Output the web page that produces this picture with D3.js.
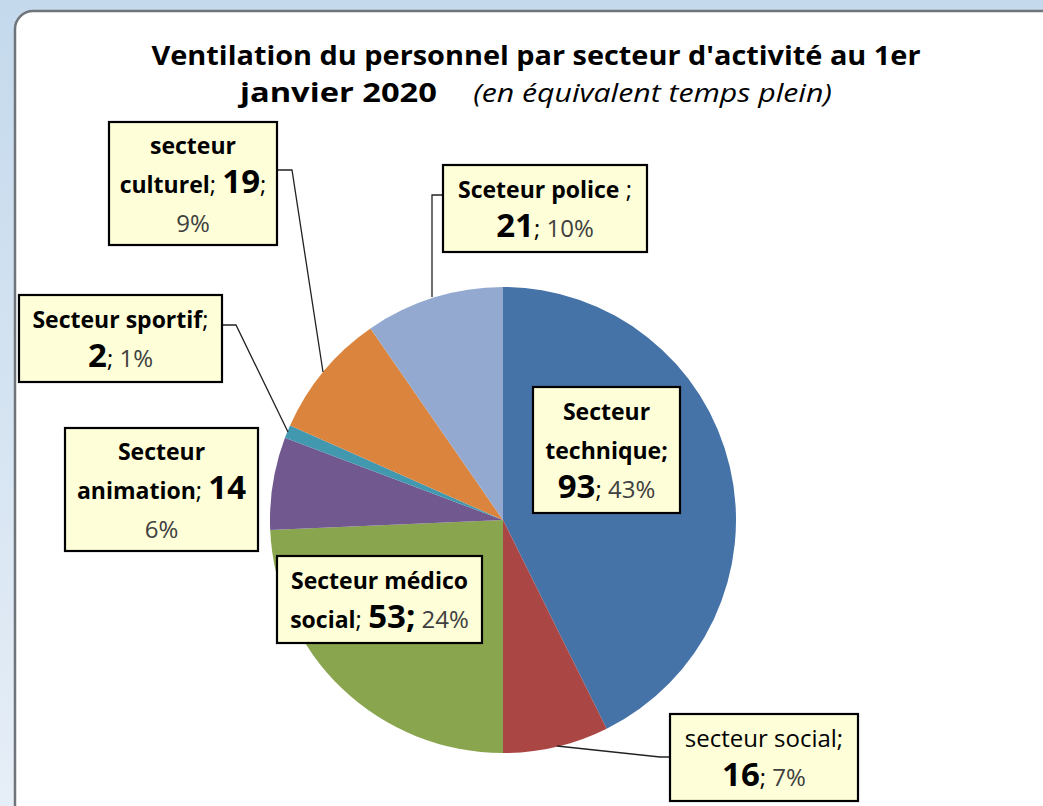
<!DOCTYPE html>
<html><head><meta charset="utf-8">
<script src="https://cdn.jsdelivr.net/npm/d3@7"></script>
<style>body{margin:0;overflow:hidden;background:#c9dcee}</style>
</head><body>
<script>
// ---- data ----
const categories = ["Secteur technique","secteur social","Secteur médico social","Secteur animation","Secteur sportif","secteur culturel","Sceteur police"];
const values = [93,16,53,14,2,19,21];
const colors = ["#4572A7","#AA4643","#89A54E","#71588F","#4198AF","#DB843D","#93A9CF"];
const titleLine1 = "Ventilation du personnel par secteur d'activité au 1er";
const titleLine2a = "janvier 2020";
const titleLine2b = "(en équivalent temps plein)";
// label text layout: b=bold, r=regular, n=big bold value, p=percent
const labelLines = [
  [[["b","Secteur"]],[["b","technique;"]],[["n","{v}"],["r","; "],["p","{p}"]]],
  [[["r","secteur social;"]],[["n","{v}"],["r","; "],["p","{p}"]]],
  [[["b","Secteur médico"]],[["b","social"],["r","; "],["n","{v};"],["r"," "],["p","{p}"]]],
  [[["b","Secteur"]],[["b","animation"],["r","; "],["n","{v}"]],[["p","{p}"]]],
  [[["b","Secteur sportif"],["r",";"]],[["n","{v}"],["r","; "],["p","{p}"]]],
  [[["b","secteur"]],[["b","culturel"],["r","; "],["n","{v}"],["r",";"]],[["p","{p}"]]],
  [[["b","Sceteur police"],["r"," ;"]],[["n","{v}"],["r","; "],["p","{p}"]]]
];
// ---- layout ----
const boxes = [
  {x:533,y:387,w:147,h:126},
  {x:670,y:714,w:188,h:87, leader:[[557,746],[660,757],[670,757]]},
  {x:277,y:556,w:205,h:87},
  {x:65,y:428,w:193,h:123},
  {x:19,y:295,w:203,h:87, leader:[[288,432],[236,325],[222,325]]},
  {x:109,y:122,w:168,h:123, leader:[[323,372],[292,170],[277,170]]},
  {x:443,y:165,w:204,h:87, leader:[[432,297],[432,195],[443,195]]}
];
const W=1043,H=806, cx=503, cy=520, R=233;
const FONT="'Open Sans', sans-serif";

const svg=d3.select("body").append("svg").attr("width",W).attr("height",H);
const defs=svg.append("defs");
const bg=defs.append("linearGradient").attr("id","bg").attr("x1",0).attr("y1",0).attr("x2",0).attr("y2",1);
bg.append("stop").attr("offset",0).attr("stop-color","#c4d9ec");
bg.append("stop").attr("offset",1).attr("stop-color","#e6eef7");
svg.append("rect").attr("width",W).attr("height",H).attr("fill","url(#bg)");
// panel
svg.append("rect").attr("x",15).attr("y",11).attr("width",1060).attr("height",840).attr("rx",18)
  .attr("fill","#ffffff").attr("stroke","#6f747a").attr("stroke-width",2.5);

// title
svg.append("text").attr("x",536).attr("y",65).attr("text-anchor","middle")
  .attr("font-family",FONT).attr("font-weight","bold").attr("font-size",27).attr("fill","#000")
  .attr("textLength",769).attr("lengthAdjust","spacingAndGlyphs").text(titleLine1);
const t2=svg.append("text").attr("x",536).attr("y",102).attr("text-anchor","middle")
  .attr("font-family",FONT).attr("font-size",27).attr("fill","#000")
  .attr("textLength",592).attr("lengthAdjust","spacingAndGlyphs");
t2.append("tspan").attr("font-weight","bold").text(titleLine2a);
t2.append("tspan").attr("font-style","italic").attr("dx",30).attr("font-size",25).text(titleLine2b);

// pie
const total=d3.sum(values);
const pie=d3.pie().sort(null).value(d=>d)(values);
const arc=d3.arc().innerRadius(0).outerRadius(R);
const g=svg.append("g").attr("transform",`translate(${cx},${cy})`);
g.selectAll("path").data(pie).join("path").attr("d",arc).attr("fill",(d,i)=>colors[i]);

// leaders
boxes.forEach(b=>{ if(b.leader) svg.append("path").attr("d",d3.line()(b.leader))
  .attr("fill","none").attr("stroke","#222").attr("stroke-width",1.3); });

// labels
const styles={
  b:{w:"bold",s:23,c:"#000"},
  r:{w:"normal",s:24,c:"#000"},
  n:{w:"bold",s:33,c:"#000"},
  p:{w:"normal",s:24,c:"#404040"}
};
boxes.forEach((b,i)=>{
  svg.append("rect").attr("x",b.x).attr("y",b.y).attr("width",b.w).attr("height",b.h)
    .attr("fill","#FEFED8").attr("stroke","#000").attr("stroke-width",2.2);
  const lines=labelLines[i], n=lines.length, mid=b.y+b.h/2;
  const pct=Math.round(values[i]/total*100)+"%";
  lines.forEach((ln,k)=>{
    const tx=svg.append("text").attr("x",b.x+b.w/2).attr("y",mid+(k-(n-1)/2)*39+9)
      .attr("text-anchor","middle").attr("font-family",FONT);
    ln.forEach(([st,txt])=>{
      const s=styles[st];
      tx.append("tspan").attr("font-weight",s.w).attr("font-size",s.s).attr("fill",s.c)
        .style("white-space","pre")
        .text(txt.replace("{v}",values[i]).replace("{p}",pct));
    });
  });
});
</script>
</body></html>
